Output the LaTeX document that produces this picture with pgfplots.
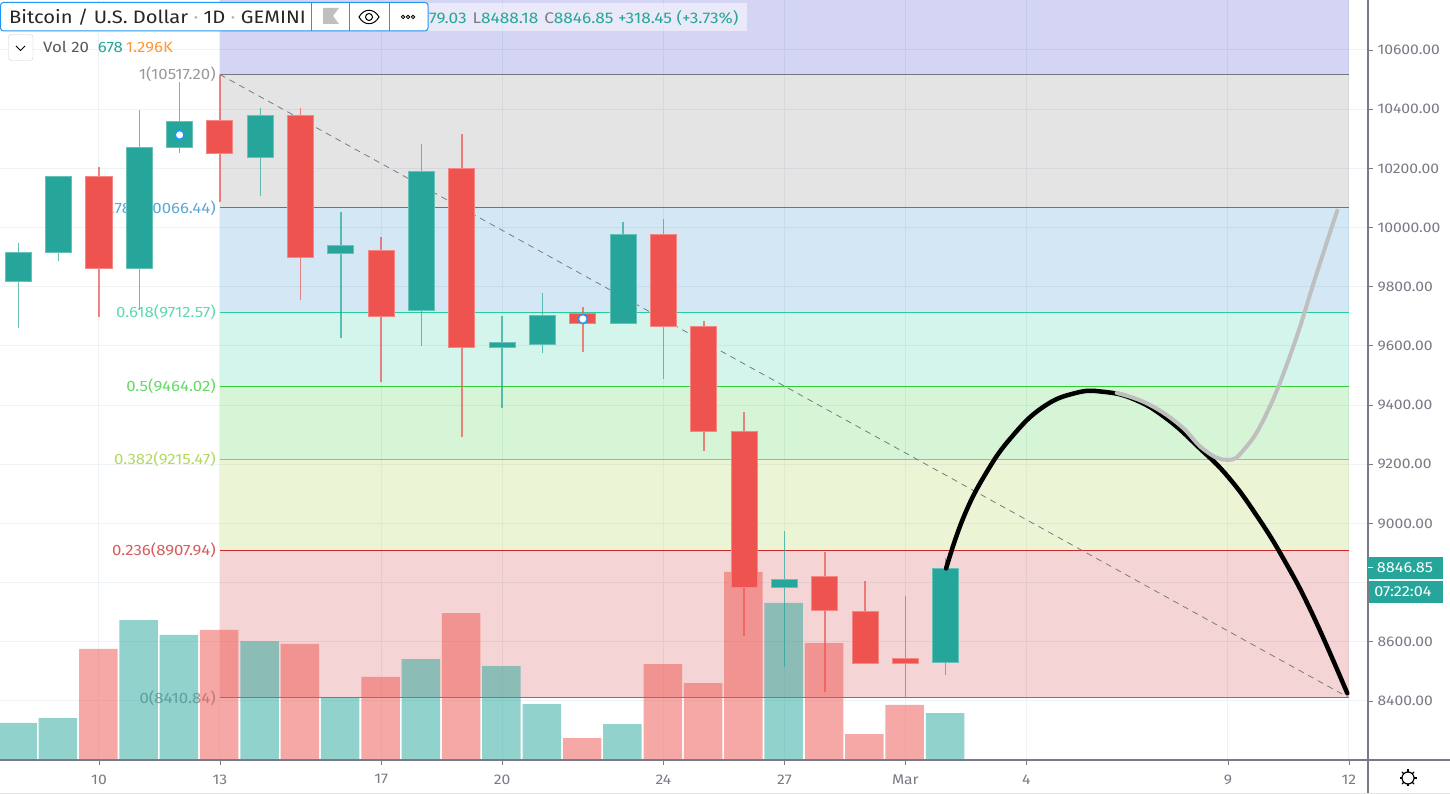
\documentclass[border=0pt]{standalone}
\usepackage{fontspec}
\setmainfont[FakeStretch=1.12]{Fira Sans}
\usepackage{pgfplots}
\usepackage{pgfplotstable}
\pgfplotsset{compat=1.18}

\definecolor{up}{HTML}{26A69A}
\definecolor{down}{HTML}{EF5350}
\definecolor{tickgray}{HTML}{787B86}
\definecolor{gridc}{HTML}{EDF2F7}
\definecolor{fibtop}{HTML}{2828C8}
\definecolor{fibone}{HTML}{787878}
\definecolor{fibblue}{HTML}{238CC8}
\definecolor{fibteal}{HTML}{28CD9B}
\definecolor{fibgreen}{HTML}{32CD32}
\definecolor{fiblime}{HTML}{9BCD2D}
\definecolor{fibred}{HTML}{C82828}
\definecolor{boxblue}{HTML}{2196F3}

% volume, one table per colour
\pgfplotstableread{
day vol
8 534
9 606
11 2020
12 1804
14 1717
16 895
18 1457
20 1356
21 808
23 519
27 2266
31 678
}\volup
\pgfplotstableread{
day vol
10 1602
13 1876
15 1674
17 1198
19 2121
22 317
24 1385
25 1111
26 2713
28 1688
29 375
30 794
}\voldown

\pgfplotsset{base/.style={
    scale only axis, width=1368pt, height=760pt,
    xmin=7.545, xmax=41.474,
}}

% colour, day, open, close, low, high
\newcommand\candle[6]{
  \pgfmathsetmacro\xa{#2-0.323}
  \pgfmathsetmacro\xb{#2+0.323}
  \addplot[#1, line width=1.5pt, opacity=.7] coordinates {(#2,#5) (#2,#6)};
  \addplot[fill=#1, draw=#1!70!white, line width=1pt] coordinates {(\xa,#3) (\xb,#3) (\xb,#4) (\xa,#4)} --cycle;
}
% colour, upper level, lower level
\newcommand\band[3]{
  \addplot[fill=#1, fill opacity=.2, draw=none] coordinates {(13,#2) (41,#2) (41,#3) (13,#3)} --cycle;
}
\newcommand\level[3]{
  \addplot[#1, line width=1pt] coordinates {(13,#2) (41,#2)};
  \node[anchor=east, text=#1!75!white, font=\fontsize{15}{17}\selectfont, inner sep=0pt, xshift=-4pt] at (axis cs:13,#2) {#3};
}

\begin{document}
\begin{tikzpicture}
\clip (0,0) rectangle (1450pt,794pt);
\fill[white] (0,0) rectangle (1450pt,794pt);

% price scale, grid, fibonacci levels
\begin{axis}[base, at={(0pt,34pt)}, anchor=south west,
    ymin=8200.5, ymax=10769,
    axis x line*=bottom, axis y line*=right,
    axis line style={tickgray, line width=1.5pt},
    xtick={10,13,17,20,24,27,30,33,38,41},
    xticklabels={10,13,17,20,24,27,Mar,4,9,12},
    ytick={8400,8600,...,10600},
    scaled y ticks=false,
    % the 8800 label sits under the price tag
    yticklabels={8400.00,8600.00,{},9000.00,9200.00,9400.00,9600.00,9800.00,10000.00,10200.00,10400.00,10600.00},
    tick align=outside, major tick length=5pt,
    tick style={tickgray, line width=.8pt},
    grid=major, grid style={gridc, line width=1pt},
    ticklabel style={font=\fontsize{14}{16}\selectfont, text=tickgray},
    yticklabel style={xshift=1pt},
    xticklabel style={yshift=-6pt},
  ]
  \band{fibtop}{10769}{10517.2}
  \band{fibone}{10517.2}{10066.44}
  \band{fibblue}{10066.44}{9712.57}
  \band{fibteal}{9712.57}{9464.02}
  \band{fibgreen}{9464.02}{9215.47}
  \band{fiblime}{9215.47}{8907.94}
  \band{fibred}{8907.94}{8410.84}
  \level{fibone}{10517.2}{1(10517.20)}
  \level{fibblue}{10066.44}{0.786(10066.44)}
  \level{fibteal}{9712.57}{0.618(9712.57)}
  \level{fibgreen}{9464.02}{0.5(9464.02)}
  \level{fiblime}{9215.47}{0.382(9215.47)}
  \level{fibred}{8907.94}{0.236(8907.94)}
  \level{fibone}{8410.84}{0(8410.84)}
  \addplot[tickgray, dash pattern=on 6pt off 5pt, line width=.8pt] coordinates {(13,10517.2) (41,8410.84)};
\end{axis}

% volume
\begin{axis}[base, at={(0pt,34pt)}, anchor=south west, hide axis,
    ymin=0, ymax=10967, ybar, bar width=38.5pt, bar shift=-.7pt]
  \addplot[draw=none, fill=up, fill opacity=.5] table[x=day, y=vol] {\volup};
  \addplot[draw=none, fill=down, fill opacity=.5] table[x=day, y=vol] {\voldown};
\end{axis}

% candles and the drawn curves
\begin{axis}[base, at={(0pt,34pt)}, anchor=south west, hide axis,
    ymin=8200.5, ymax=10769]
  \candle{up}{8}{9819}{9917}{9660}{9948}
  \candle{up}{9}{9914}{10174}{9887}{10174}
  \candle{down}{10}{10171}{9863}{9698}{10205}
  \candle{up}{11}{9863}{10272}{9721}{10397}
  \candle{up}{12}{10269}{10357}{10252}{10492}
  \candle{down}{13}{10361}{10249}{10086}{10517}
  \candle{up}{14}{10235}{10377}{10107}{10404}
  \candle{down}{15}{10377}{9900}{9755}{10404}
  \candle{up}{16}{9911}{9938}{9627}{10052}
  \candle{down}{17}{9921}{9701}{9478}{9968}
  \candle{up}{18}{9721}{10191}{9600}{10282}
  \candle{down}{19}{10201}{9596}{9292}{10316}
  \candle{up}{20}{9593}{9613}{9390}{9701}
  \candle{up}{21}{9606}{9704}{9576}{9779}
  \candle{down}{22}{9708}{9674}{9579}{9731}
  \candle{up}{23}{9674}{9978}{9674}{10019}
  \candle{down}{24}{9978}{9664}{9488}{10029}
  \candle{down}{25}{9667}{9312}{9245}{9684}
  \candle{down}{26}{9312}{8782}{8620}{9377}
  \candle{up}{27}{8782}{8809}{8515}{8974}
  \candle{down}{28}{8822}{8707}{8430}{8904}
  \candle{down}{29}{8704}{8525}{8525}{8805}
  \candle{down}{30}{8545}{8525}{8410}{8755}
  \candle{up}{31}{8528.4}{8846.85}{8488.18}{8883}
  \addplot[only marks, mark=*, mark size=4.5pt, mark options={fill=white, draw=boxblue, line width=1.5pt}]
    coordinates {(12,10313) (22,9691)};
  \addplot[black, line width=4.5pt, line cap=round, smooth, tension=.75] coordinates {
    (31.01,8848) (31.44,9020) (32.00,9170) (32.64,9293) (33.40,9392) (34.20,9440)
    (34.90,9445) (35.70,9418) (36.50,9352) (37.30,9254) (38.00,9158) (38.70,9029)
    (39.40,8875) (40.10,8692) (40.96,8426)};
  \addplot[color=black!25, line width=4pt, line cap=round, smooth, tension=.75] coordinates {
    (35.24,9441) (36.00,9405) (36.80,9333) (37.40,9250) (37.97,9215) (38.40,9250)
    (38.96,9372) (39.60,9590) (40.20,9845) (40.71,10057)};
\end{axis}

% toolbar, legend strip and price tags, in reference pixels
\begin{scope}[x=1pt, y=-1pt, yshift=794pt]
  \draw[tickgray, line width=1.5pt] (0,760) -- (1450,760);
  \draw[tickgray, line width=1.5pt] (1368,760) -- (1368,794);
  \draw[black!10, line width=1pt] (0,793.5) -- (1450,793.5);

  \fill[white, opacity=.5] (428,3) rectangle (747,31);
  \node[anchor=west, inner sep=0pt, font=\fontsize{15.4}{18}\selectfont] at (429,18)
    {\textcolor{up}{79.03}\hspace{6pt}\textcolor{tickgray}{L}\textcolor{up}{8488.18}\hspace{6pt}\textcolor{tickgray}{C}\textcolor{up}{8846.85 +318.45 (+3.73\%)}};

  \draw[boxblue, fill=white, rounded corners=3pt, line width=1pt] (0.5,2.5) rectangle (428,31);
  \draw[boxblue, line width=1pt] (311,3) -- (311,31) (349,3) -- (349,31) (389,3) -- (389,31);
  \node[anchor=west, inner sep=0pt, text=black!85, font=\fontsize{18}{20}\selectfont] at (9,17)
    {Bitcoin / U.S. Dollar \textcolor{black!30}{·} 1D \textcolor{black!30}{·} GEMINI};
  \fill[black!25] (323,8) -- (339,8) -- (333,16) -- (339,24) -- (323,24) -- cycle;
  \draw[black, line width=1pt] (359,17) .. controls (364,8) and (374,8) .. (379,17) .. controls (374,26) and (364,26) .. (359,17) -- cycle;
  \draw[black, line width=1pt] (369,17) circle (3.5);
  \foreach \px in {403,408,413} \draw[black, line width=.8pt] (\px,17) circle (1.7);

  \draw[black!20, fill=white, rounded corners=3pt] (8.5,34.5) rectangle (33,60.5);
  \draw[black, line width=1pt] (16,46) -- (20.5,50.5) -- (25,46);
  \node[anchor=west, inner sep=0pt, font=\fontsize{15}{17}\selectfont] at (43,47)
    {\textcolor{black!65}{Vol 20}\hspace{9pt}\textcolor{up}{678}\hspace{3pt}\textcolor{orange!80!white}{1.296K}};

  \fill[up] (1368,557) rectangle (1443,579.5);
  \fill[up] (1369,581) rectangle (1443,603);
  \draw[white, line width=1pt] (1368,568) -- (1373,568);
  \node[text=white, inner sep=0pt, font=\fontsize{14.5}{17}\selectfont] at (1405,568) {8846.85};
  \node[text=white, inner sep=0pt, font=\fontsize{14.5}{17}\selectfont] at (1403,592) {07:22:04};

  \draw[black, line width=1.2pt] (1408,778) circle (6);
  \foreach \a in {0,45,...,315} \draw[black, line width=1.2pt] (1408,778) ++(\a:6) -- ++(\a:2.5);
\end{scope}
\end{tikzpicture}
\end{document}
